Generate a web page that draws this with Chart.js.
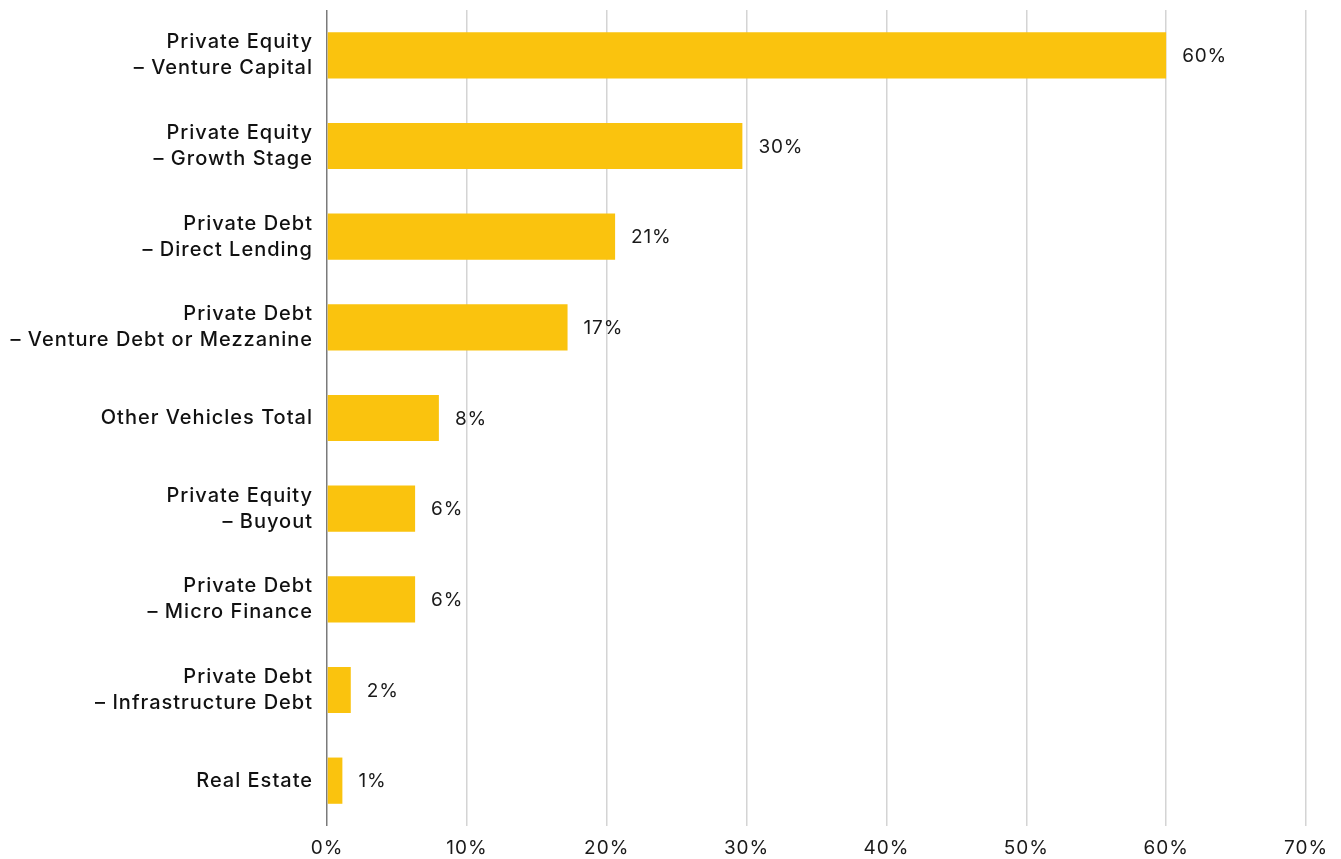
<!DOCTYPE html>
<html>
<head>
<meta charset="utf-8">
<script src="https://cdn.jsdelivr.net/npm/chart.js@4/dist/chart.umd.min.js"></script>
<style>
  html, body { margin: 0; padding: 0; background: #fff; }
  #wrap { width: 1341px; height: 859px; }
</style>
</head>
<body>
<div id="wrap"><canvas id="myChart"></canvas></div>
<script>
var categories = [
    ['Private Equity', '– Venture Capital'],
    ['Private Equity', '– Growth Stage'],
    ['Private Debt', '– Direct Lending'],
    ['Private Debt', '– Venture Debt or Mezzanine'],
    'Other Vehicles Total',
    ['Private Equity', '– Buyout'],
    ['Private Debt', '– Micro Finance'],
    ['Private Debt', '– Infrastructure Debt'],
    'Real Estate'
];
var shares = [60, 29.7, 20.6, 17.2, 8, 6.3, 6.3, 1.7, 1.1];
var xTicks = [0, 10, 20, 30, 40, 50, 60, 70];

var FONT = 'Inter, "DejaVu Sans", sans-serif';

// a bit of letter spacing for the axis text (scales are drawn before the bars)
var spacing = {
    id: 'spacing',
    beforeDraw: function (chart) { chart.ctx.letterSpacing = '1px'; },
    beforeDatasetsDraw: function (chart) { chart.ctx.letterSpacing = '0px'; }
};

// draws the "60%" style labels at the end of each bar
var barLabels = {
    id: 'barLabels',
    afterDatasetsDraw: function (chart) {
        var c = chart.ctx;
        var meta = chart.getDatasetMeta(0);
        c.save();
        c.font = '19px ' + FONT;
        c.letterSpacing = '0.8px';
        c.fillStyle = '#1a1a1a';
        c.textAlign = 'left';
        c.textBaseline = 'middle';
        meta.data.forEach(function (bar, i) {
            c.fillText(Math.round(shares[i]) + '%', bar.x + 16, bar.y + 1);
        });
        c.restore();
    }
};

var cvas = document.getElementById('myChart').getContext('2d');
var myChart = new Chart(cvas, {
    type: 'bar',
    data: {
        labels: categories,
        datasets: [{
            data: shares,
            backgroundColor: '#FAC30E',
            borderWidth: 0,
            barPercentage: 0.51,
            categoryPercentage: 1
        }]
    },
    options: {
        indexAxis: 'y',
        responsive: true,
        maintainAspectRatio: false,
        animation: false,
        layout: {
            padding: { top: 10, right: 35, bottom: 0, left: 0 }
        },
        plugins: {
            legend: { display: false },
            tooltip: { enabled: false }
        },
        scales: {
            x: {
                min: 0,
                max: 70,
                afterBuildTicks: function (axis) {
                    axis.ticks = xTicks.map(function (v) { return { value: v }; });
                },
                afterFit: function (axis) { axis.height = 33; },
                grid: {
                    drawTicks: false,
                    lineWidth: 1.5,
                    color: function (ctx) {
                        return ctx.tick && ctx.tick.value === 0 ? '#7a7a7a' : '#d4d4d4';
                    }
                },
                border: { display: false },
                ticks: {
                    padding: 11,
                    color: '#1a1a1a',
                    font: { family: FONT, size: 19 },
                    callback: function (v) { return v + '%'; }
                }
            },
            y: {
                grid: { display: false, drawTicks: false },
                border: { display: false },
                afterFit: function (axis) {
                    axis.width = 327;
                    axis.paddingTop = 0;
                    axis.paddingBottom = 0;
                },
                ticks: {
                    padding: 14,
                    color: '#111',
                    font: { family: FONT, size: 20, weight: '500', lineHeight: 1.3 }
                }
            }
        }
    },
    plugins: [spacing, barLabels]
});
</script>
</body>
</html>
